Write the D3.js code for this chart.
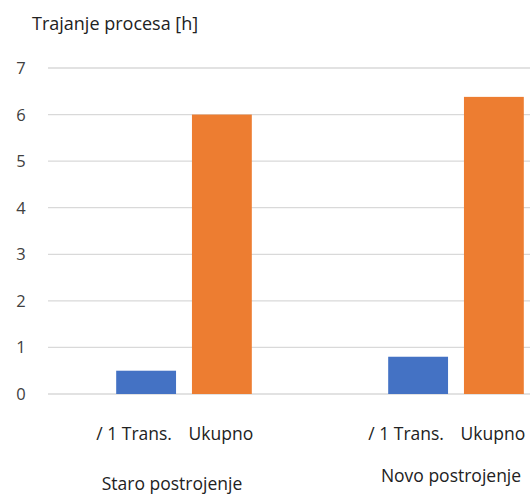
<!DOCTYPE html>
<html>
<head>
<meta charset="utf-8">
<script src="https://cdn.jsdelivr.net/npm/d3@7"></script>
<style>
  body { margin: 0; background: #fff; }
  text { font-family: "Open Sans", "Noto Sans", sans-serif; fill: #404040; }
</style>
</head>
<body>
<svg id="chart"></svg>
<script>
// podaci
var groups = ['Staro postrojenje', 'Novo postrojenje'];
var series = ['/ 1 Trans.', 'Ukupno'];
var values = [[0.5, 6.0], [0.8, 6.38]];
var yTicks = [0, 1, 2, 3, 4, 5, 6, 7];
var colors = ['#4472C4', '#ED7D31'];

var svg = d3.select('#chart').attr('width', 530).attr('height', 495);

var y = d3.scaleLinear().domain([0, 7]).range([394, 68]);
// chart is cut at the right edge, so the range runs past 530
var x0 = d3.scaleBand().domain(groups).range([48, 592]);
var x1 = d3.scaleBand().domain(series).range([0, x0.bandwidth()]).paddingInner(0.21).paddingOuter(0.9);

// grid
svg.append('g').selectAll('line').data(yTicks).join('line')
    .attr('x1', 48).attr('x2', 530)
    .attr('y1', function(d) { return y(d); }).attr('y2', function(d) { return y(d); })
    .attr('stroke', '#d9d9d9').attr('stroke-width', 1.3);

svg.append('g').selectAll('text').data(yTicks).join('text')
    .attr('x', 21).attr('y', function(d) { return y(d) + 6; })
    .attr('text-anchor', 'middle').style('font-size', '16.5px')
    .text(function(d) { return d; });

svg.append('text').attr('x', 32).attr('y', 30).style('font-size', '18px').style('fill', '#222')
    .text('Trajanje procesa [h]');

var g = svg.append('g').selectAll('g').data(groups).join('g')
    .attr('transform', function(d) { return 'translate(' + x0(d) + ',0)'; });

g.selectAll('rect').data(function(d, i) { return values[i]; }).join('rect')
    .attr('x', function(d, j) { return x1(series[j]); })
    .attr('width', x1.bandwidth())
    .attr('y', function(d) { return y(d); })
    .attr('height', function(d) { return y(0) - y(d); })
    .attr('fill', function(d, j) { return colors[j]; });

// labels under bars
var dx = [-12, -1];
g.selectAll('text.sub').data(series).join('text').attr('class', 'sub')
    .attr('x', function(d, j) { return x1(d) + x1.bandwidth() / 2 + dx[j]; })
    .attr('y', 440).attr('text-anchor', 'middle').style('font-size', '17.5px').style('fill', '#222')
    .text(function(d) { return d; });

var gy = [490, 482];
var gdx = [-12, -5];
svg.append('g').selectAll('text').data(groups).join('text')
    .attr('x', function(d, i) { return x0(d) + x0.bandwidth() / 2 + gdx[i]; })
    .attr('y', function(d, i) { return gy[i]; })
    .attr('text-anchor', 'middle').style('font-size', '17.5px').style('fill', '#222')
    .text(function(d) { return d; });
</script>
</body>
</html>
